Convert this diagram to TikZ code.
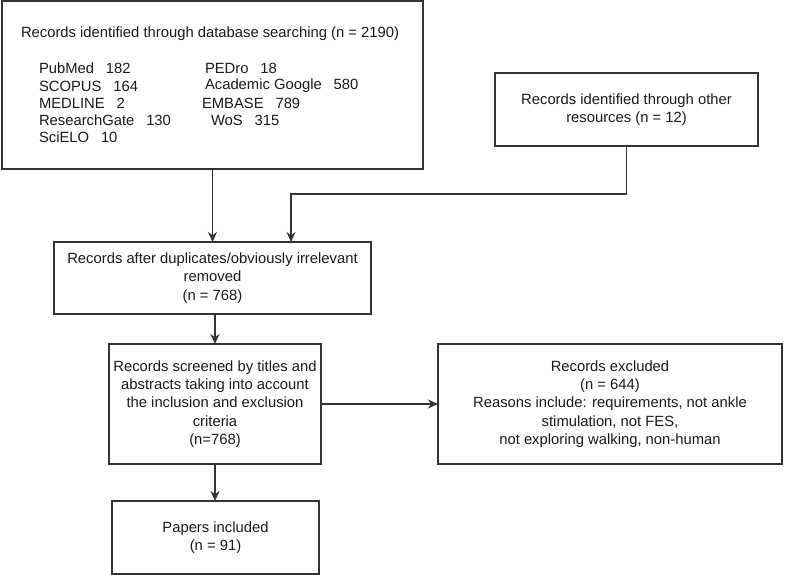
\documentclass[tikz,border=0pt]{standalone}
\usepackage{fontspec}
\setmainfont{Liberation Sans}
\usetikzlibrary{arrows.meta,calc}
\definecolor{linec}{HTML}{333333}
\definecolor{textc}{HTML}{1A1A1A}
\tikzset{
  boxn/.style={draw=linec, line width=1.6pt, rectangle, inner sep=0pt, outer sep=0pt, align=center, text=textc},
  txt/.style={inner sep=0pt, outer sep=0pt, anchor=west, text=textc},
  arr/.style={draw=linec, line width=1.6pt, -{Stealth[length=10pt,width=9pt]}},
  lin/.style={draw=linec, line width=1.6pt}
}
\begin{document}
\begin{tikzpicture}[x=1pt,y=-1pt, font=\fontsize{14.8}{18.3}\selectfont]
\useasboundingbox (0,0) rectangle (787,575);
% boxes
\node[boxn, minimum width=421pt, minimum height=168pt] (db) at (212.5,85) {};
\node[boxn, minimum width=263pt, minimum height=73pt] (other) at (626.5,109.5) {Records identified through other\\resources (n = 12)};
\node[boxn, minimum width=317pt, minimum height=72pt] (dup) at (212.5,278) {Records after duplicates/obviously irrelevant\\removed\\(n = 768)};
\node[boxn, minimum width=212pt, minimum height=120pt] (scr) at (215,404) {Records screened by titles and\\abstracts taking into account\\the inclusion and exclusion\\criteria\\(n=768)};
\node[boxn, minimum width=207pt, minimum height=73pt] (inc) at (215.5,537.5) {Papers included\\(n = 91)};
\node[boxn, minimum width=344pt, minimum height=120pt] (exc) at (610,404) {Records excluded\\(n = 644)\\Reasons include: requirements, not ankle\\stimulation, not FES,\\not exploring walking, non-human};
% text in database box
\node[txt] (dbt) at (21,34) {Records identified through database searching (n = 2190)};
\node[txt] (l1) at (39,68) {PubMed\hspace{0.8em}182};
\node[txt] (l2) at (39,86) {SCOPUS\hspace{0.8em}164};
\node[txt] (l3) at (39,103) {MEDLINE\hspace{0.8em}2};
\node[txt] (l4) at (39,120) {ResearchGate\hspace{0.8em}130};
\node[txt] (l5) at (39,137) {SciELO\hspace{0.8em}10};
\node[txt] (r1) at (205,68) {PEDro\hspace{0.8em}18};
\node[txt] (r2) at (205,86) {Academic Google\hspace{0.8em}580};
\node[txt] (r3) at (202,103) {EMBASE\hspace{0.8em}789};
\node[txt] (r4) at (211,120) {WoS\hspace{0.8em}315};
% connectors
\coordinate (j) at (291,194);
\draw[arr] (db.south -| dup.north) -- (dup.north);
\draw[arr] (other.south) |- (j) -- (j |- dup.north);
\draw[arr] (scr.north |- dup.south) -- (scr.north);
\draw[arr] (scr.south) -- (inc.north -| scr.south);
\draw[arr] (scr.east) -- (exc.west);
\end{tikzpicture}
\end{document}
